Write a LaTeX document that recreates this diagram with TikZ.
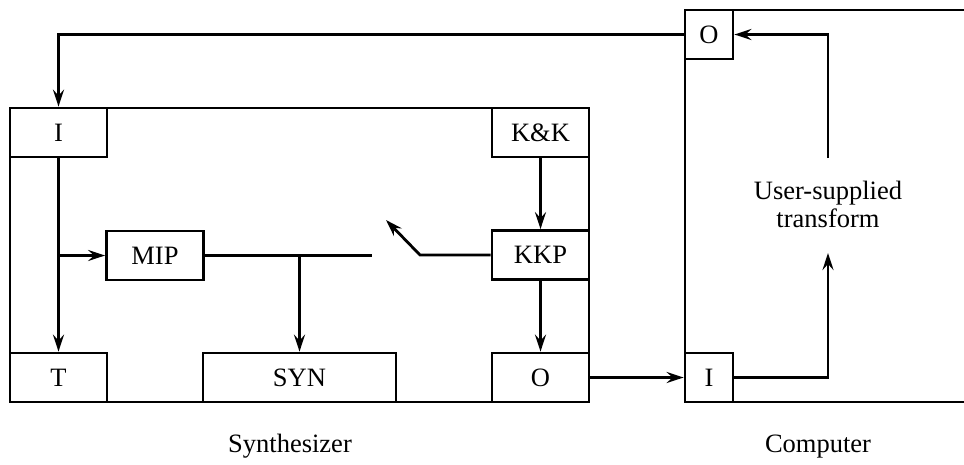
\documentclass[tikz,border=0pt]{standalone}
\usepackage{fontspec}
\setmainfont{Liberation Serif}
\usepackage{tikz}
\usetikzlibrary{positioning,arrows.meta}
\newcommand{\blkfont}{\fontsize{26.5}{28}\selectfont}
\tikzset{
  blk/.style={rectangle, draw=black, line width=2.8pt, minimum width=97pt, minimum height=49pt, inner sep=0pt, font=\blkfont},
  sq/.style={blk, minimum width=48pt},
  frame/.style={rectangle, draw=black, line width=2.8pt, inner sep=0pt},
  ln/.style={draw=black, line width=2.8pt},
  arr/.style={ln, -{Stealth[length=17pt, width=11pt, inset=6pt]}},
  lbl/.style={font=\blkfont, inner sep=0pt}
}
\begin{document}
\begin{tikzpicture}[x=1pt, y=-1pt]
  \useasboundingbox (0,0) rectangle (964,464);
  % synthesizer
  \node[frame, minimum width=579pt, minimum height=294pt] (synth) at (299.5,255) {};
  \node[blk] (inI) at (58.5,132.5) {I};
  \node[blk] (T) at (58.5,377.5) {T};
  \node[blk] (MIP) at (155,255.5) {MIP};
  \node[blk, minimum width=193pt] (SYN) at (299.5,377.5) {SYN};
  \node[blk] (KK) at (540.5,132.5) {K\&K};
  \node[blk] (KKP) at (540.5,255) {KKP};
  \node[blk] (synO) at (540.5,377.5) {O};
  % computer
  \draw[ln] (964,10) -- (685,10) -- (685,402) -- (964,402);
  \node[sq] (cO) at (709,34.5) {O};
  \node[sq] (cI) at (709,377.5) {I};
  \node[lbl, align=center] (xfm) at (828,204) {User-supplied\\transform};
  \coordinate (xtop) at (828,158);
  \coordinate (xbot) at (828,253);
  % switch
  \coordinate (swA) at (372,255.5);
  \coordinate (swB) at (420,255);
  \coordinate (swC) at (386,220);
  % connectors
  \draw[arr] (cO.west) -| (inI.north);
  \draw[arr] (inI.south) -- (T.north);
  \draw[arr] (inI.south |- MIP.west) -- (MIP.west);
  \draw[ln] (MIP.east) -- (swA);
  \draw[arr] (SYN.north |- MIP.east) -- (SYN.north);
  \draw[arr] (KKP.west) -- (swB) -- (swC);
  \draw[arr] (KK.south) -- (KKP.north);
  \draw[arr] (KKP.south) -- (synO.north);
  \draw[arr] (synO.east) -- (cI.west);
  \draw[arr] (cI.east) -| (xbot);
  \draw[arr] (xtop) |- (cO.east);
  % captions
  \node[lbl, anchor=base] (synlbl) at (290,452) {Synthesizer};
  \node[lbl, anchor=base] (cmplbl) at (818,452) {Computer};
\end{tikzpicture}
\end{document}
